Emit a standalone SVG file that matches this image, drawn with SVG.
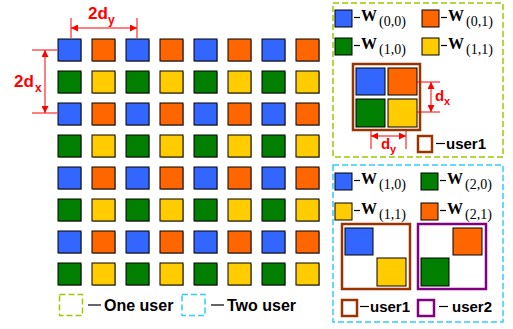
<svg xmlns="http://www.w3.org/2000/svg" width="513" height="329" viewBox="0 0 513 329">
<defs>
<marker id="ah" viewBox="0 0 10 10" refX="10" refY="5" markerWidth="7" markerHeight="7" orient="auto-start-reverse" markerUnits="userSpaceOnUse"><path d="M0,0 L10,5 L0,10 z" fill="#FF0000"/></marker>
</defs>
<style>
.sq{stroke:#000;stroke-width:1}
.sh{fill:#b0b0b0}
.B{fill:#3366FF}.O{fill:#FF6600}.G{fill:#007F00}.Y{fill:#FFCC00}
.dim{stroke:#FF0000;stroke-width:1;fill:none}
.red{fill:#FF0000;font-family:"Liberation Sans",Arial,sans-serif;font-weight:bold}
.lab{font-family:"Liberation Sans",Arial,sans-serif;font-weight:bold;fill:#000}
.wb{font-family:"Liberation Serif","Times New Roman",serif;font-weight:bold;font-size:16px;fill:#000}
.ws{font-family:"Liberation Serif","Times New Roman",serif;font-size:14px;fill:#000}
.dl{stroke:#000;stroke-width:1.2}
.brown{fill:#fff;stroke:#993300;stroke-width:2.5}
.purple{fill:#fff;stroke:#800080;stroke-width:2.5}
.gbox{fill:none;stroke:#99CC00;stroke-width:1.5;stroke-dasharray:6 3}
.cbox{fill:none;stroke:#33CCFF;stroke-width:1.5;stroke-dasharray:6 3}
</style>
<rect width="513" height="329" fill="#fff"/>

<g id="grid">
<g id="r0">
<rect class="sh" x="59" y="40" width="23" height="22"/><rect class="sq B" x="58" y="39" width="23" height="22"/>
<rect class="sh" x="93" y="40" width="23" height="22"/><rect class="sq O" x="92" y="39" width="23" height="22"/>
<rect class="sh" x="127" y="40" width="23" height="22"/><rect class="sq B" x="126" y="39" width="23" height="22"/>
<rect class="sh" x="161" y="40" width="23" height="22"/><rect class="sq O" x="160" y="39" width="23" height="22"/>
<rect class="sh" x="195" y="40" width="23" height="22"/><rect class="sq B" x="194" y="39" width="23" height="22"/>
<rect class="sh" x="229" y="40" width="23" height="22"/><rect class="sq O" x="228" y="39" width="23" height="22"/>
<rect class="sh" x="263" y="40" width="23" height="22"/><rect class="sq B" x="262" y="39" width="23" height="22"/>
<rect class="sh" x="297" y="40" width="23" height="22"/><rect class="sq O" x="296" y="39" width="23" height="22"/>
</g>
<g id="r1">
<rect class="sh" x="59" y="72" width="23" height="22"/><rect class="sq G" x="58" y="71" width="23" height="22"/>
<rect class="sh" x="93" y="72" width="23" height="22"/><rect class="sq Y" x="92" y="71" width="23" height="22"/>
<rect class="sh" x="127" y="72" width="23" height="22"/><rect class="sq G" x="126" y="71" width="23" height="22"/>
<rect class="sh" x="161" y="72" width="23" height="22"/><rect class="sq Y" x="160" y="71" width="23" height="22"/>
<rect class="sh" x="195" y="72" width="23" height="22"/><rect class="sq G" x="194" y="71" width="23" height="22"/>
<rect class="sh" x="229" y="72" width="23" height="22"/><rect class="sq Y" x="228" y="71" width="23" height="22"/>
<rect class="sh" x="263" y="72" width="23" height="22"/><rect class="sq G" x="262" y="71" width="23" height="22"/>
<rect class="sh" x="297" y="72" width="23" height="22"/><rect class="sq Y" x="296" y="71" width="23" height="22"/>
</g>
<g id="r2">
<rect class="sh" x="59" y="104" width="23" height="22"/><rect class="sq B" x="58" y="103" width="23" height="22"/>
<rect class="sh" x="93" y="104" width="23" height="22"/><rect class="sq O" x="92" y="103" width="23" height="22"/>
<rect class="sh" x="127" y="104" width="23" height="22"/><rect class="sq B" x="126" y="103" width="23" height="22"/>
<rect class="sh" x="161" y="104" width="23" height="22"/><rect class="sq O" x="160" y="103" width="23" height="22"/>
<rect class="sh" x="195" y="104" width="23" height="22"/><rect class="sq B" x="194" y="103" width="23" height="22"/>
<rect class="sh" x="229" y="104" width="23" height="22"/><rect class="sq O" x="228" y="103" width="23" height="22"/>
<rect class="sh" x="263" y="104" width="23" height="22"/><rect class="sq B" x="262" y="103" width="23" height="22"/>
<rect class="sh" x="297" y="104" width="23" height="22"/><rect class="sq O" x="296" y="103" width="23" height="22"/>
</g>
<g id="r3">
<rect class="sh" x="59" y="136" width="23" height="22"/><rect class="sq G" x="58" y="135" width="23" height="22"/>
<rect class="sh" x="93" y="136" width="23" height="22"/><rect class="sq Y" x="92" y="135" width="23" height="22"/>
<rect class="sh" x="127" y="136" width="23" height="22"/><rect class="sq G" x="126" y="135" width="23" height="22"/>
<rect class="sh" x="161" y="136" width="23" height="22"/><rect class="sq Y" x="160" y="135" width="23" height="22"/>
<rect class="sh" x="195" y="136" width="23" height="22"/><rect class="sq G" x="194" y="135" width="23" height="22"/>
<rect class="sh" x="229" y="136" width="23" height="22"/><rect class="sq Y" x="228" y="135" width="23" height="22"/>
<rect class="sh" x="263" y="136" width="23" height="22"/><rect class="sq G" x="262" y="135" width="23" height="22"/>
<rect class="sh" x="297" y="136" width="23" height="22"/><rect class="sq Y" x="296" y="135" width="23" height="22"/>
</g>
<g id="r4">
<rect class="sh" x="59" y="168" width="23" height="22"/><rect class="sq B" x="58" y="167" width="23" height="22"/>
<rect class="sh" x="93" y="168" width="23" height="22"/><rect class="sq O" x="92" y="167" width="23" height="22"/>
<rect class="sh" x="127" y="168" width="23" height="22"/><rect class="sq B" x="126" y="167" width="23" height="22"/>
<rect class="sh" x="161" y="168" width="23" height="22"/><rect class="sq O" x="160" y="167" width="23" height="22"/>
<rect class="sh" x="195" y="168" width="23" height="22"/><rect class="sq B" x="194" y="167" width="23" height="22"/>
<rect class="sh" x="229" y="168" width="23" height="22"/><rect class="sq O" x="228" y="167" width="23" height="22"/>
<rect class="sh" x="263" y="168" width="23" height="22"/><rect class="sq B" x="262" y="167" width="23" height="22"/>
<rect class="sh" x="297" y="168" width="23" height="22"/><rect class="sq O" x="296" y="167" width="23" height="22"/>
</g>
<g id="r5">
<rect class="sh" x="59" y="200" width="23" height="22"/><rect class="sq G" x="58" y="199" width="23" height="22"/>
<rect class="sh" x="93" y="200" width="23" height="22"/><rect class="sq Y" x="92" y="199" width="23" height="22"/>
<rect class="sh" x="127" y="200" width="23" height="22"/><rect class="sq G" x="126" y="199" width="23" height="22"/>
<rect class="sh" x="161" y="200" width="23" height="22"/><rect class="sq Y" x="160" y="199" width="23" height="22"/>
<rect class="sh" x="195" y="200" width="23" height="22"/><rect class="sq G" x="194" y="199" width="23" height="22"/>
<rect class="sh" x="229" y="200" width="23" height="22"/><rect class="sq Y" x="228" y="199" width="23" height="22"/>
<rect class="sh" x="263" y="200" width="23" height="22"/><rect class="sq G" x="262" y="199" width="23" height="22"/>
<rect class="sh" x="297" y="200" width="23" height="22"/><rect class="sq Y" x="296" y="199" width="23" height="22"/>
</g>
<g id="r6">
<rect class="sh" x="59" y="232" width="23" height="22"/><rect class="sq B" x="58" y="231" width="23" height="22"/>
<rect class="sh" x="93" y="232" width="23" height="22"/><rect class="sq O" x="92" y="231" width="23" height="22"/>
<rect class="sh" x="127" y="232" width="23" height="22"/><rect class="sq B" x="126" y="231" width="23" height="22"/>
<rect class="sh" x="161" y="232" width="23" height="22"/><rect class="sq O" x="160" y="231" width="23" height="22"/>
<rect class="sh" x="195" y="232" width="23" height="22"/><rect class="sq B" x="194" y="231" width="23" height="22"/>
<rect class="sh" x="229" y="232" width="23" height="22"/><rect class="sq O" x="228" y="231" width="23" height="22"/>
<rect class="sh" x="263" y="232" width="23" height="22"/><rect class="sq B" x="262" y="231" width="23" height="22"/>
<rect class="sh" x="297" y="232" width="23" height="22"/><rect class="sq O" x="296" y="231" width="23" height="22"/>
</g>
<g id="r7">
<rect class="sh" x="59" y="264" width="23" height="22"/><rect class="sq G" x="58" y="263" width="23" height="22"/>
<rect class="sh" x="93" y="264" width="23" height="22"/><rect class="sq Y" x="92" y="263" width="23" height="22"/>
<rect class="sh" x="127" y="264" width="23" height="22"/><rect class="sq G" x="126" y="263" width="23" height="22"/>
<rect class="sh" x="161" y="264" width="23" height="22"/><rect class="sq Y" x="160" y="263" width="23" height="22"/>
<rect class="sh" x="195" y="264" width="23" height="22"/><rect class="sq G" x="194" y="263" width="23" height="22"/>
<rect class="sh" x="229" y="264" width="23" height="22"/><rect class="sq Y" x="228" y="263" width="23" height="22"/>
<rect class="sh" x="263" y="264" width="23" height="22"/><rect class="sq G" x="262" y="263" width="23" height="22"/>
<rect class="sh" x="297" y="264" width="23" height="22"/><rect class="sq Y" x="296" y="263" width="23" height="22"/>
</g>
</g>

<g id="dims">
<line class="dim" x1="71" y1="18" x2="71" y2="38"/>
<line class="dim" x1="137" y1="18" x2="137" y2="38"/>
<line class="dim" x1="71" y1="28" x2="137" y2="28" marker-start="url(#ah)" marker-end="url(#ah)"/>
<text class="red" x="88" y="19" font-size="17">2d</text>
<text class="red" x="108" y="24" font-size="12">y</text>
<line class="dim" x1="32" y1="50" x2="57" y2="50"/>
<line class="dim" x1="32" y1="113" x2="57" y2="113"/>
<line class="dim" x1="45" y1="50" x2="45" y2="113" marker-start="url(#ah)" marker-end="url(#ah)"/>
<text class="red" x="14" y="87" font-size="17">2d</text>
<text class="red" x="35" y="92" font-size="12">x</text>
</g>

<g id="oneUserPanel">
<rect class="gbox" x="333" y="3" width="170" height="154"/>
<rect class="sq B" x="335" y="10" width="17" height="17"/>
<line class="dl" x1="354" y1="17.5" x2="360" y2="17.5"/><text class="wb" x="361" y="21">W</text><text class="ws" x="379" y="26">(0,0)</text>
<rect class="sq O" x="422" y="10" width="17" height="17"/>
<line class="dl" x1="441" y1="17.5" x2="447" y2="17.5"/><text class="wb" x="448" y="21">W</text><text class="ws" x="466" y="26">(0,1)</text>
<rect class="sq G" x="335" y="38" width="17" height="17"/>
<line class="dl" x1="354" y1="45.5" x2="360" y2="45.5"/><text class="wb" x="361" y="49">W</text><text class="ws" x="379" y="54">(1,0)</text>
<rect class="sq Y" x="422" y="38" width="17" height="17"/>
<line class="dl" x1="441" y1="45.5" x2="447" y2="45.5"/><text class="wb" x="448" y="49">W</text><text class="ws" x="466" y="54">(1,1)</text>
<rect class="brown" x="353" y="64" width="67" height="66"/>
<rect class="sq B" x="356" y="68" width="29" height="27"/>
<rect class="sq O" x="388" y="68" width="29" height="27"/>
<rect class="sq G" x="356" y="99" width="29" height="28"/>
<rect class="sq Y" x="388" y="99" width="29" height="28"/>
<line class="dim" x1="417" y1="82" x2="440" y2="82"/>
<line class="dim" x1="417" y1="112" x2="440" y2="112"/>
<line class="dim" x1="431" y1="82" x2="431" y2="112" marker-start="url(#ah)" marker-end="url(#ah)"/>
<text class="red" x="435" y="101" font-size="15">d</text>
<text class="red" x="444" y="105" font-size="11">x</text>
<line class="dim" x1="371" y1="131" x2="371" y2="149"/>
<line class="dim" x1="406" y1="131" x2="406" y2="149"/>
<line class="dim" x1="371" y1="136" x2="406" y2="136" marker-start="url(#ah)" marker-end="url(#ah)"/>
<text class="red" x="381" y="149" font-size="15">d</text>
<text class="red" x="390" y="153" font-size="11">y</text>
<rect class="brown" x="418" y="136" width="14" height="16"/>
<line class="dl" x1="436" y1="143.5" x2="445" y2="143.5"/>
<text class="lab" x="446" y="149" font-size="15">user1</text>
</g>

<g id="twoUserPanel">
<rect class="cbox" x="333" y="165" width="170" height="157"/>
<rect class="sq B" x="335" y="173" width="17" height="17"/>
<line class="dl" x1="354" y1="180.5" x2="360" y2="180.5"/><text class="wb" x="361" y="184">W</text><text class="ws" x="379" y="189">(1,0)</text>
<rect class="sq G" x="421" y="173" width="17" height="17"/>
<line class="dl" x1="440" y1="180.5" x2="446" y2="180.5"/><text class="wb" x="447" y="184">W</text><text class="ws" x="465" y="189">(2,0)</text>
<rect class="sq Y" x="335" y="203" width="17" height="17"/>
<line class="dl" x1="354" y1="210.5" x2="360" y2="210.5"/><text class="wb" x="361" y="214">W</text><text class="ws" x="379" y="219">(1,1)</text>
<rect class="sq O" x="421" y="203" width="17" height="17"/>
<line class="dl" x1="440" y1="210.5" x2="446" y2="210.5"/><text class="wb" x="447" y="214">W</text><text class="ws" x="465" y="219">(2,1)</text>
<rect class="brown" x="342" y="224" width="68" height="65"/>
<rect class="sq B" x="345" y="228" width="28" height="27"/>
<rect class="sq Y" x="377" y="258" width="29" height="28"/>
<rect class="purple" x="418" y="224" width="68" height="65"/>
<rect class="sq O" x="453" y="228" width="29" height="27"/>
<rect class="sq G" x="421" y="258" width="28" height="28"/>
<rect class="brown" x="342" y="300" width="15" height="16"/>
<line class="dl" x1="360" y1="306.5" x2="369" y2="306.5"/>
<text class="lab" x="370" y="312" font-size="15">user1</text>
<rect class="purple" x="418" y="300" width="16" height="16"/>
<line class="dl" x1="439" y1="306.5" x2="448" y2="306.5"/>
<text class="lab" x="452" y="312" font-size="15">user2</text>
</g>

<g id="legend">
<rect class="gbox" x="59.5" y="294.5" width="23" height="21"/>
<line class="dl" x1="88" y1="305" x2="101" y2="305"/>
<text class="lab" x="104" y="311" font-size="16">One user</text>
<rect class="cbox" x="182" y="294.5" width="23" height="21"/>
<line class="dl" x1="211" y1="305" x2="224" y2="305"/>
<text class="lab" x="227" y="311" font-size="16">Two user</text>
</g>
</svg>
